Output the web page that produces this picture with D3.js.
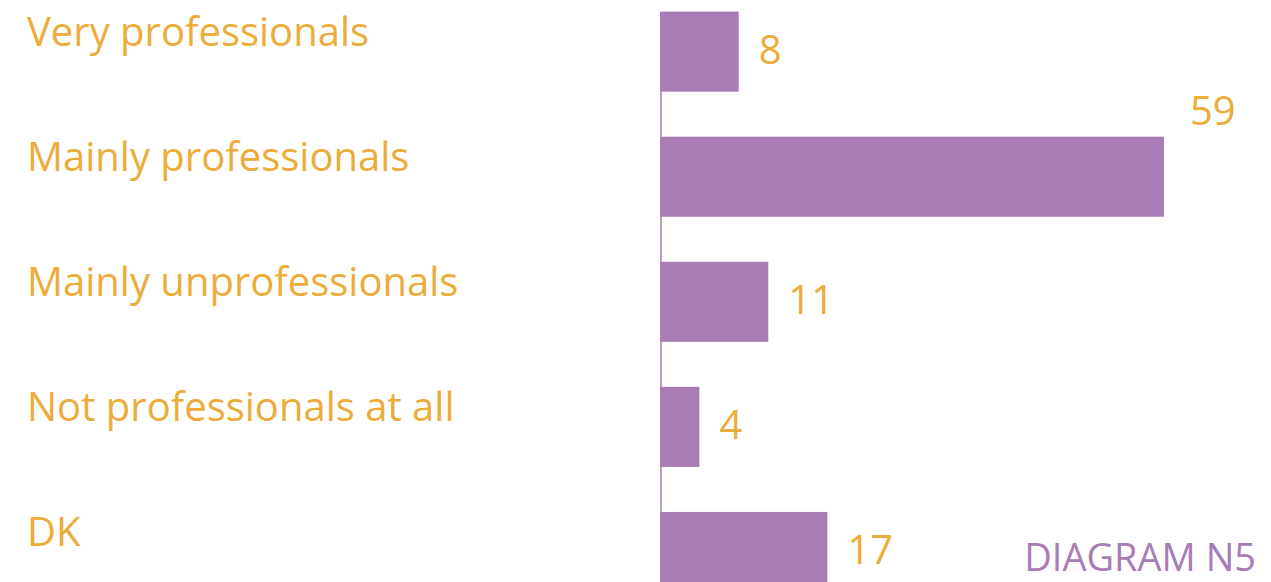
<!DOCTYPE html>
<html>
<head>
<meta charset="utf-8">
<script src="https://cdn.jsdelivr.net/npm/d3@7"></script>
<style>
  html, body { margin: 0; padding: 0; background: #ffffff; }
  svg { display: block; }
</style>
</head>
<body>
<svg id="chart" width="1271" height="582"></svg>
<script>
const categories = ["Very professionals", "Mainly professionals", "Mainly unprofessionals", "Not professionals at all", "DK"];
const values = [8, 59, 11, 4, 17];
const title = "DIAGRAM N5";

const W = 1271, H = 582;
const orange = "#ECAC39";
const purple = "#A87CB4";
const font = "'Open Sans', 'Noto Sans', sans-serif";

const svg = d3.select("#chart");

const y = d3.scaleBand()
  .domain(categories)
  .range([11.6, 592])
  .paddingInner(0.36)
  .paddingOuter(0);

// the original chart truncates the largest bar: values beyond the domain are clamped
const x = d3.scaleLinear()
  .domain([0, 51.2])
  .range([660, 1164])
  .clamp(true);

const data = categories.map((c, i) => ({ cat: c, value: values[i] }));

// bars
svg.append("g").selectAll("rect")
  .data(data)
  .join("rect")
  .attr("x", x(0))
  .attr("y", d => y(d.cat))
  .attr("width", d => x(d.value) - x(0))
  .attr("height", y.bandwidth())
  .attr("fill", purple);

// vertical axis line
const axis = svg.append("g")
  .attr("transform", `translate(${x(0) + 0.5},0)`)
  .call(d3.axisLeft(y).tickSize(0).tickFormat(""));
axis.select(".domain").attr("stroke", purple).attr("stroke-width", 1.5);

// category labels
svg.append("g").selectAll("text")
  .data(data)
  .join("text")
  .attr("x", 27)
  .attr("y", d => y(d.cat) + y.bandwidth() / 2 - 6)
  .attr("fill", orange)
  .attr("font-family", font)
  .attr("font-size", 40)
  .text(d => d.cat);

// value labels
svg.append("g").selectAll("text")
  .data(data)
  .join("text")
  .attr("x", d => x(d.value) + (d.value > x.domain()[1] ? 26 : 20))
  .attr("y", d => d.value > x.domain()[1]
      ? y(d.cat) - 12
      : y(d.cat) + y.bandwidth() / 2 + 12)
  .attr("fill", orange)
  .attr("font-family", font)
  .attr("font-size", 40)
  .text(d => d.value);

// title
svg.append("text")
  .attr("x", 1256)
  .attr("y", 571)
  .attr("text-anchor", "end")
  .attr("fill", purple)
  .attr("font-family", font)
  .attr("font-size", 38)
  .text(title);
</script>
</body>
</html>
